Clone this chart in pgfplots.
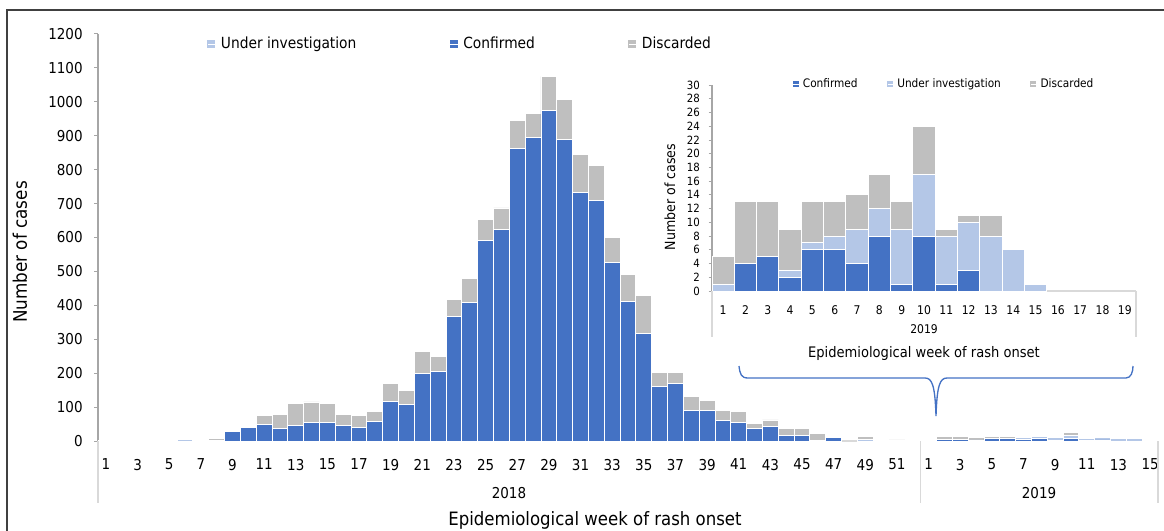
\documentclass[border=0pt]{standalone}
\usepackage{fontspec}
\setmainfont{DejaVu Sans Condensed}
\usepackage{pgfplots}
\usepackage{pgfplotstable}
\pgfplotsset{compat=1.18}
\definecolor{conf}{HTML}{4472C4}
\definecolor{uinv}{HTML}{B4C7E7}
\definecolor{disc}{HTML}{BFBFBF}
\definecolor{axg}{HTML}{A6A6A6}
\definecolor{lg}{HTML}{D9D9D9}
\definecolor{frm}{HTML}{404040}

\pgfplotstableread{
x conf ui disc
1 0 0 1
2 0 0 1
3 0 0 1
4 0 0 2
5 0 1 1
6 0 5 1
7 0 1 1
8 1 1 6
9 28 0 0
10 40 0 0
11 49 0 25
12 36 0 42
13 45 0 66
14 54 0 61
15 54 0 57
16 45 0 33
17 41 0 33
18 57 0 29
19 116 0 54
20 107 0 43
21 199 0 66
22 204 0 45
23 366 0 50
24 407 0 72
25 591 0 62
26 624 0 63
27 862 0 83
28 896 0 71
29 975 0 100
30 888 0 119
31 733 0 112
32 709 0 103
33 526 0 74
34 412 0 79
35 316 0 113
36 161 0 42
37 170 0 33
38 90 0 42
39 90 0 30
40 61 0 30
41 56 0 30
42 36 0 17
43 44 0 18
44 15 0 22
45 15 0 22
46 2 0 20
47 11 0 0
48 0 0 0
49 0 5 9
50 0 0 2
51 0 1 2
52 0 0 1
53 0 1 4
54 4 0 9
55 5 0 8
56 2 1 6
57 6 1 6
58 6 2 5
59 4 5 5
60 8 4 5
61 1 8 4
62 8 9 7
63 1 7 1
64 3 7 1
65 0 8 3
66 0 6 0
67 0 1 0
}\maindata

\pgfplotstableread{
x conf ui disc
1 0 1 4
2 4 0 9
3 5 0 8
4 2 1 6
5 6 1 6
6 6 2 5
7 4 5 5
8 8 4 5
9 1 8 4
10 8 9 7
11 1 7 1
12 3 7 1
13 0 8 3
14 0 6 0
15 0 1 0
16 0 0 0
17 0 0 0
18 0 0 0
19 0 0 0
}\insetdata

\begin{document}
\begin{tikzpicture}[x=0.75pt,y=-0.75pt]
\path[use as bounding box] (0,0) rectangle (1164,531);
\draw[frm, line width=1.2pt] (7,531) -- (7,10) -- (1164,10);

% ---------- main axis ----------
\begin{axis}[
  at={(98*0.75pt,-441*0.75pt)}, anchor=south west,
  scale only axis, width=795pt, height=305.25pt,
  xmin=0.5, xmax=67.5, ymin=0, ymax=1200,
  ybar stacked, bar width=1,
  axis x line*=bottom, axis y line*=left,
  x axis line style={draw=lg, line width=1pt},
  y axis line style={draw=axg, line width=1pt},
  ytick={0,100,...,1200},
  xtick={1,3,5,7,9,11,13,15,17,19,21,23,25,27,29,31,33,35,37,39,41,43,45,47,49,51,53,55,57,59,61,63,65,67},
  xticklabels={1,3,5,7,9,11,13,15,17,19,21,23,25,27,29,31,33,35,37,39,41,43,45,47,49,51,1,3,5,7,9,11,13,15},
  x tick style={draw=none},
  y tick style={draw=axg, line width=0.75pt},
  tick align=outside, major tick length=3pt,
  tick label style={font=\fontsize{11.25}{13}\selectfont, text=black},
  /pgf/number format/assume math mode=true,
  /pgf/number format/1000 sep={},
  scaled y ticks=false,
  yticklabel style={xshift=-5pt},
  xticklabel style={yshift=-7pt},
  every axis plot/.append style={draw=white, line width=0.7pt},
  legend style={at={(0.342,0.975)}, anchor=center, draw=none, fill=none,
     font=\fontsize{11.5}{13}\selectfont, legend columns=3,
     /tikz/every even column/.append style={column sep=68pt}},
  legend cell align=left,
  clip=false,
]
\addlegendimage{legend image code/.code={\fill[uinv] (0pt,-2.6pt) rectangle (5.2pt,2.6pt); \path (0pt,0pt) -- (7.5pt,0pt);}}
\addlegendimage{legend image code/.code={\fill[conf] (0pt,-2.6pt) rectangle (5.2pt,2.6pt); \path (0pt,0pt) -- (7.5pt,0pt);}}
\addlegendimage{legend image code/.code={\fill[disc] (0pt,-2.6pt) rectangle (5.2pt,2.6pt); \path (0pt,0pt) -- (7.5pt,0pt);}}
\addplot[fill=conf] table[x=x,y=conf]{\maindata};
\addplot[fill=uinv] table[x=x,y=ui]{\maindata};
\addplot[fill=disc] table[x=x,y=disc]{\maindata};
\legend{Under investigation, Confirmed, Discarded}
\end{axis}

% ---------- inset axis ----------
\begin{axis}[
  at={(712*0.75pt,-291*0.75pt)}, anchor=south west,
  scale only axis, width=318pt, height=154.5pt,
  xmin=0.5, xmax=19.5, ymin=0, ymax=30,
  ybar stacked, bar width=1,
  axis x line*=bottom, axis y line*=left,
  x axis line style={draw=lg, line width=1pt},
  y axis line style={draw=axg, line width=0.8pt},
  ytick={0,2,...,30},
  xtick={1,...,19},
  x tick style={draw=none},
  y tick style={draw=axg, line width=0.6pt},
  tick align=outside, major tick length=2.5pt,
  yticklabel style={font=\fontsize{8.5}{9}\selectfont, text=black, xshift=-3pt},
  xticklabel style={font=\fontsize{9}{10}\selectfont, text=black, yshift=-5pt},
  /pgf/number format/assume math mode=true,
  every axis plot/.append style={draw=white, line width=0.7pt},
  legend style={at={(0.548,1.005)}, anchor=center, draw=none, fill=none,
     font=\fontsize{8.8}{10}\selectfont, legend columns=3,
     /tikz/every even column/.append style={column sep=20pt}},
  legend cell align=left,
  clip=false,
]
\addlegendimage{legend image code/.code={\fill[conf] (0pt,-1.9pt) rectangle (3.8pt,1.9pt); \path (0pt,0pt) -- (5pt,0pt);}}
\addlegendimage{legend image code/.code={\fill[uinv] (0pt,-1.9pt) rectangle (3.8pt,1.9pt); \path (0pt,0pt) -- (5pt,0pt);}}
\addlegendimage{legend image code/.code={\fill[disc] (0pt,-1.9pt) rectangle (3.8pt,1.9pt); \path (0pt,0pt) -- (5pt,0pt);}}
\addplot[fill=conf] table[x=x,y=conf]{\insetdata};
\addplot[fill=uinv] table[x=x,y=ui]{\insetdata};
\addplot[fill=disc] table[x=x,y=disc]{\insetdata};
\legend{Confirmed, Under investigation, Discarded}
\end{axis}

% group separators main
\draw[lg, line width=0.8pt] (98,441) -- (98,503);
\draw[lg, line width=0.8pt] (920.7,441) -- (920.7,503);
\draw[lg, line width=0.8pt] (1158,441) -- (1158,503);
\node[font=\fontsize{11.25}{13}\selectfont] at (509,493) {2018};
\node[font=\fontsize{11.25}{13}\selectfont] at (1039,493) {2019};
\node[font=\fontsize{13.8}{16}\selectfont] at (595,520) {Epidemiological week of rash onset};
\node[font=\fontsize{14}{16}\selectfont, rotate=90] at (20,252) {Number of cases};

% inset separators and labels
\draw[lg, line width=0.8pt] (712,291) -- (712,337);
\draw[lg, line width=0.8pt] (1136,291) -- (1136,337);
\node[font=\fontsize{9}{10}\selectfont] at (924,329) {2019};
\node[font=\fontsize{10.9}{12}\selectfont] at (924,353) {Epidemiological week of rash onset};
\node[font=\fontsize{10.5}{12}\selectfont, rotate=90] at (670,197) {Number of cases};

% brace
\draw[conf, line width=1pt] (739,366) .. controls (740,374) and (741,378) .. (748,378)
  -- (925,378) .. controls (932,378) and (935,385) .. (936,416)
  .. controls (937,385) and (940,378) .. (947,378) -- (1126,378)
  .. controls (1131,378) and (1133,372) .. (1133,366);
\end{tikzpicture}
\end{document}
